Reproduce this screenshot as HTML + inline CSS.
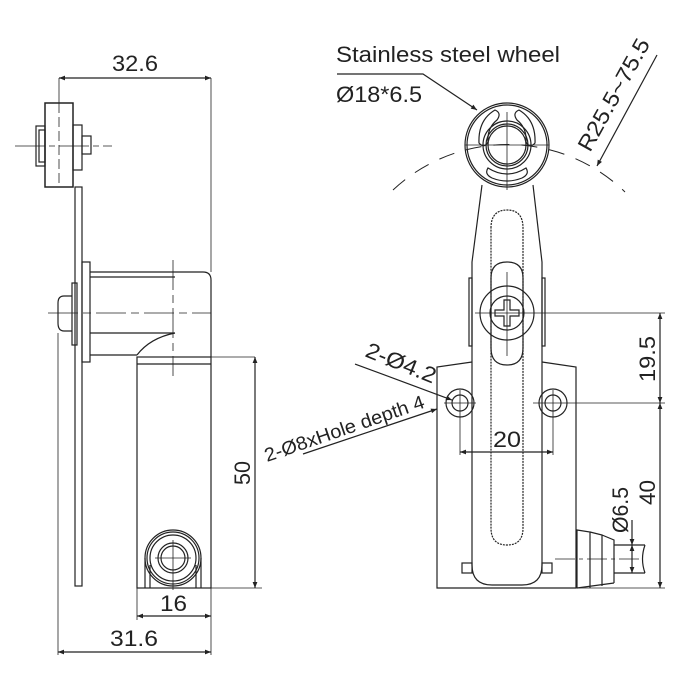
<!DOCTYPE html>
<html><head><style>body{margin:0;background:#fff}svg{display:block}text{font-family:"Liberation Sans",sans-serif;fill:#222}</style></head><body>
<svg width="700" height="700" viewBox="0 0 700 700" xmlns="http://www.w3.org/2000/svg">
<defs><marker id="a" viewBox="0 0 10 10" refX="10" refY="5" markerWidth="9" markerHeight="6" orient="auto-start-reverse" markerUnits="userSpaceOnUse"><path d="M0,1 L10,5 L0,9 z" fill="#222"/></marker></defs>
<g fill="none" stroke="#222" stroke-width="1.2">
<line x1="59" y1="78" x2="211" y2="78" marker-start="url(#a)" marker-end="url(#a)"/>
<line x1="59" y1="78" x2="59" y2="103" stroke-width="0.8"/>
<line x1="211" y1="78" x2="211" y2="272" stroke-width="0.8"/>
<rect x="45" y="103" width="28" height="84" stroke-width="1.5"/>
<rect x="36" y="126" width="9" height="40"/>
<rect x="39" y="130" width="6" height="32"/>
<rect x="73" y="125" width="9" height="45"/>
<rect x="82" y="136" width="9" height="18"/>
<line x1="15" y1="146" x2="112" y2="146" stroke-dasharray="30,4,6,4" stroke-width="0.8"/>
<line x1="59" y1="103" x2="59" y2="187" stroke-dasharray="10,4" stroke-width="0.8"/>
<rect x="75" y="187" width="7" height="399"/>
<rect x="82" y="262" width="8" height="100"/>
<rect x="72" y="283" width="5" height="62"/>
<path d="M72,296 H64 Q58,296 58,303 V323 Q58,331 64,331 H72"/>
<path d="M90,272 H203 Q211,272 211,280 V357"/>
<line x1="90" y1="277" x2="175" y2="277"/>
<line x1="90" y1="333" x2="175" y2="333"/>
<line x1="90" y1="355" x2="137" y2="355"/>
<path d="M137,355 Q150,338 175,333"/>
<line x1="137" y1="357" x2="255" y2="357" stroke-width="0.8"/>
<line x1="48" y1="313" x2="211" y2="313" stroke-dasharray="30,5,8,5" stroke-width="0.8"/>
<line x1="173" y1="260" x2="173" y2="376" stroke-dasharray="30,5,8,5" stroke-width="0.8"/>
<line x1="58" y1="333" x2="58" y2="655" stroke-width="0.8"/>
<rect x="137" y="357" width="74" height="231"/>
<line x1="137" y1="364" x2="211" y2="364"/>
<circle cx="173" cy="558" r="28"/><circle cx="173" cy="558" r="26"/><circle cx="173" cy="558" r="23"/>
<circle cx="173" cy="558" r="15"/><circle cx="173" cy="558" r="12"/>
<line x1="145" y1="558" x2="145" y2="588"/><line x1="150" y1="565" x2="150" y2="588"/>
<line x1="201" y1="558" x2="201" y2="588"/><line x1="196" y1="565" x2="196" y2="588"/>
<line x1="173" y1="540" x2="173" y2="590" stroke-width="0.8"/><line x1="155" y1="558" x2="191" y2="558" stroke-width="0.8"/>
<line x1="211" y1="588" x2="262" y2="588" stroke-width="0.8"/>
<line x1="255" y1="357" x2="255" y2="588" marker-start="url(#a)" marker-end="url(#a)"/>
<line x1="137" y1="588" x2="137" y2="620" stroke-width="0.8"/>
<line x1="211" y1="588" x2="211" y2="655" stroke-width="0.8"/>
<line x1="137" y1="616" x2="211" y2="616" marker-start="url(#a)" marker-end="url(#a)"/>
<line x1="58" y1="652" x2="211" y2="652" marker-start="url(#a)" marker-end="url(#a)"/>
<path d="M393,190 A168,168 0 0 1 625,192" stroke-dasharray="16,12" stroke-width="1"/>
<circle cx="507" cy="145" r="42"/><circle cx="507" cy="145" r="40"/>
<circle cx="507" cy="145" r="24"/><circle cx="507" cy="145" r="21"/><circle cx="507" cy="145" r="19"/>
<path d="M479,143 Q478,120 495,110 Q502,113 497,120 Q487,128 488,142 Q484,149 479,143Z"/>
<path d="M535,143 Q536,120 519,110 Q512,113 517,120 Q527,128 526,142 Q530,149 535,143Z"/>
<path d="M488,168 Q507,180 526,168 Q530,174 522,178 Q507,184 492,178 Q484,174 488,168Z"/>
<line x1="465" y1="145" x2="549" y2="145" stroke-width="0.8"/>
<line x1="507" y1="112" x2="507" y2="190" stroke-width="0.8"/>
<path d="M482,185 L472,262 V565 Q472,585 492,585 H522 Q542,585 542,565 V262 L533,185"/>
<path d="M491,228 Q491,210 507,210 Q523,210 523,228 V528 Q523,545 507,545 Q491,545 491,528 Z" stroke-dasharray="2,1"/>
<path d="M491,278 Q491,262 507,262 Q523,262 523,278 V348 Q523,365 507,365 Q491,365 491,348 Z"/>
<rect x="469" y="278" width="3" height="68"/><rect x="542" y="278" width="3" height="68"/>
<circle cx="507" cy="313" r="27"/><circle cx="507" cy="313" r="17"/>
<path d="M504,300 H510 V310 H519 V316 H510 V326 H504 V316 H495 V310 H504 Z"/>
<line x1="507" y1="272" x2="507" y2="356" stroke-width="0.8"/>
<line x1="475" y1="313" x2="665" y2="313" stroke-width="0.8"/>
<path d="M472,362 L437,367 V588 H576 V367 L542,362"/>
<circle cx="460" cy="403" r="14"/><circle cx="460" cy="403" r="8"/>
<circle cx="553" cy="403" r="14"/><circle cx="553" cy="403" r="8"/>
<line x1="444" y1="403" x2="476" y2="403" stroke-width="0.8"/><line x1="460" y1="390" x2="460" y2="455" stroke-width="0.8"/>
<line x1="533" y1="403" x2="665" y2="403" stroke-width="0.8"/><line x1="553" y1="390" x2="553" y2="455" stroke-width="0.8"/>
<line x1="460" y1="452" x2="553" y2="452" marker-start="url(#a)" marker-end="url(#a)"/>
<rect x="462" y="563" width="10" height="10"/><rect x="542" y="563" width="10" height="10"/>
<path d="M577,588 V530 L590,532 V588 M590,532 L602,535 V586 M602,535 L614,540 V583 M577,588 L614,583"/>
<path d="M614,545 H645 M614,573 H645 M645,545 Q640,559 645,573"/>
<line x1="555" y1="559" x2="640" y2="559" stroke-dasharray="20,4,4,4" stroke-width="0.8"/>
<line x1="576" y1="588" x2="665" y2="588" stroke-width="0.8"/>
<line x1="660" y1="313" x2="660" y2="403" marker-start="url(#a)" marker-end="url(#a)"/>
<line x1="660" y1="403" x2="660" y2="588" marker-start="url(#a)" marker-end="url(#a)"/>
<line x1="632" y1="520" x2="632" y2="545" marker-end="url(#a)"/>
<line x1="632" y1="545" x2="632" y2="573" marker-start="url(#a)" marker-end="url(#a)"/>
<path d="M337,74 H423 L477,110" marker-end="url(#a)"/>
<line x1="657" y1="55" x2="597" y2="166" marker-end="url(#a)"/>
<line x1="355" y1="364" x2="452" y2="400" marker-end="url(#a)"/>
<line x1="303" y1="454" x2="437" y2="409" marker-end="url(#a)"/>
</g>
<g font-size="22" lengthAdjust="spacingAndGlyphs">
<text x="112" y="71" textLength="46" lengthAdjust="spacingAndGlyphs">32.6</text>
<text x="160" y="611" textLength="27" lengthAdjust="spacingAndGlyphs">16</text>
<text x="110" y="646" textLength="48" lengthAdjust="spacingAndGlyphs">31.6</text>
<text transform="translate(250,485) rotate(-90)" textLength="24" lengthAdjust="spacingAndGlyphs">50</text>
<text x="336" y="62" textLength="224" lengthAdjust="spacingAndGlyphs">Stainless steel wheel</text>
<text x="336" y="102" textLength="86" lengthAdjust="spacingAndGlyphs">Ø18*6.5</text>
<text x="493" y="447" textLength="28" lengthAdjust="spacingAndGlyphs">20</text>
<text transform="translate(655,382) rotate(-90)" textLength="46" lengthAdjust="spacingAndGlyphs">19.5</text>
<text transform="translate(655,505) rotate(-90)" textLength="25" lengthAdjust="spacingAndGlyphs">40</text>
<text transform="translate(628,533) rotate(-90)" textLength="46" lengthAdjust="spacingAndGlyphs">Ø6.5</text>
<text transform="translate(590,153) rotate(-61)" textLength="125" lengthAdjust="spacingAndGlyphs">R25.5~75.5</text>
<text transform="translate(364,356) rotate(22)" textLength="74" lengthAdjust="spacingAndGlyphs">2-Ø4.2</text>
<text transform="translate(267,462) rotate(-19)" font-size="19" textLength="168" lengthAdjust="spacingAndGlyphs">2-Ø8xHole depth 4</text>
</g>
</svg>
</body></html>
